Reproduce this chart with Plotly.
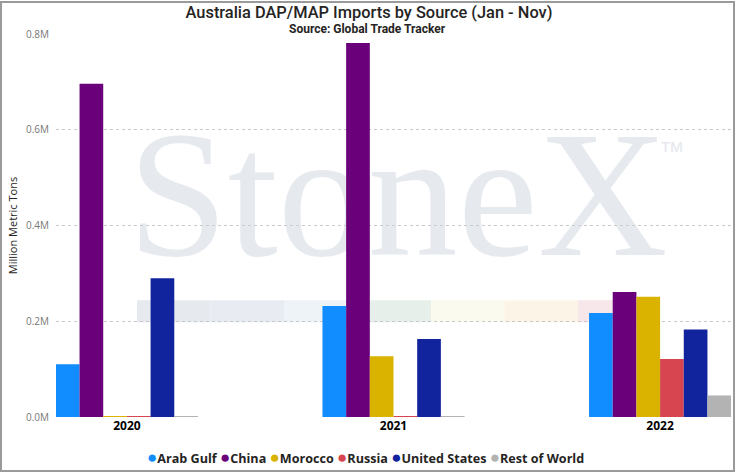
import plotly.graph_objects as go

# Australia DAP/MAP imports by source, Jan - Nov (million metric tons)
years = ["2020", "2021", "2022"]
sources = ["Arab Gulf", "China", "Morocco", "Russia", "United States", "Rest of World"]
colors = ["#118DFF", "#6B007B", "#D9B300", "#D64550", "#12239E", "#B3B3B3"]

arab_gulf = [0.110, 0.232, 0.217]
china = [0.696, 0.781, 0.261]
morocco = [0.002, 0.127, 0.251]
russia = [0.002, 0.002, 0.121]
united_states = [0.290, 0.163, 0.183]
rest_of_world = [0.001, 0.001, 0.045]
series = [arab_gulf, china, morocco, russia, united_states, rest_of_world]

y_ticks = [0.0, 0.2, 0.4, 0.6, 0.8]

# watermark band colours (left to right)
band_colors = ["#e6e9ee", "#e8ecf2", "#eef3f8", "#e7efea", "#fafaee", "#fdf4e8", "#f7e6ea"]

W, H = 738, 474
L, R, T, B = 56, 7, 34, 57
pw, ph = W - L - R, H - T - B


def px_x(x):
    # pixel -> paper x
    return (x - L) / pw


def px_y(y):
    # pixel -> paper y
    return (H - B - y) / ph


fig = go.Figure()

# watermark lives on the base axes so the bars (overlay axes) sit on top of it
wm = ("Stone<span style='letter-spacing:-9px'>X</span>"
      "<span style='font-size:26px;font-family:Liberation Sans;"
      "baseline-shift:95px'>™</span>")
fig.add_trace(go.Scatter(
    x=[0.5188], y=[0.432],
    mode="text",
    text=[wm],
    textposition="middle center",
    textfont=dict(family="Liberation Serif", size=180, color="rgba(205,211,221,0.5)"),
    hoverinfo="skip",
    showlegend=False,
    xaxis="x", yaxis="y",
))

for name, vals, col in zip(sources, series, colors):
    fig.add_trace(go.Bar(
        x=years,
        y=vals,
        name=name,
        marker=dict(color=col, line=dict(width=0)),
        showlegend=False,
        xaxis="x2", yaxis="y",
    ))

shapes = []
seg = 73.5
for i, c in enumerate(band_colors):
    shapes.append(dict(
        type="rect", layer="below",
        xref="paper", yref="y",
        x0=px_x(137 + i * seg), x1=px_x(137 + (i + 1) * seg),
        y0=0.198, y1=0.244,
        fillcolor=c, line=dict(width=0),
    ))
# outer frame
shapes.append(dict(
    type="rect", xref="paper", yref="paper",
    x0=px_x(1), x1=px_x(734), y0=px_y(471), y1=px_y(2),
    line=dict(color="#9a9a9a", width=2),
))

legend_txt = " ".join(
    f'<span style="color:{c};font-size:17px">●</span><b>{n}</b>'
    for n, c in zip(sources, colors)
)

fig.update_layout(
    width=W, height=H,
    margin=dict(l=L, r=R, t=T, b=B),
    paper_bgcolor="white",
    plot_bgcolor="white",
    barmode="group",
    bargap=0.467,
    bargroupgap=0,
    title=dict(
        text="Australia DAP/MAP Imports by Source (Jan - Nov)",
        x=0.5, xanchor="center", xref="container",
        y=1 - 12 / H, yanchor="middle", yref="container",
        font=dict(family="Roboto", size=16.4, color="#252423", weight=500),
    ),
    xaxis=dict(range=[0, 1], visible=False, fixedrange=True),
    xaxis2=dict(
        overlaying="x",
        type="category",
        range=[-0.266, 2.266],
        showgrid=False, zeroline=False, showline=False,
        ticks="",
        tickfont=dict(family="Open Sans", size=12, color="#000000", weight="bold"),
    ),
    yaxis=dict(
        range=[0, 0.8],
        tickvals=y_ticks,
        ticktext=[f"{v:.1f}M" for v in y_ticks],
        showgrid=True,
        gridcolor="#c8c8c8",
        griddash="dot",
        gridwidth=1,
        zeroline=False,
        showline=False,
        ticks="",
        ticklabelstandoff=6,
        tickfont=dict(family="Open Sans", size=10, color="#777777"),
        title=dict(text="Million Metric Tons",
                   font=dict(family="Open Sans", size=11, color="#252423"),
                   standoff=6),
    ),
    annotations=[
        dict(
            text="<b>Source: Global Trade Tracker</b>",
            xref="paper", yref="paper",
            x=px_x(367.5), y=px_y(29),
            xanchor="center", yanchor="middle",
            showarrow=False,
            font=dict(family="Roboto", size=12, color="#252423"),
        ),
        dict(
            text=legend_txt,
            xref="paper", yref="paper",
            x=px_x(365), y=px_y(456),
            xanchor="center", yanchor="middle",
            showarrow=False,
            font=dict(family="Open Sans", size=12.6, color="#252423"),
        ),
    ],
    shapes=shapes,
    showlegend=False,
)

# drop the browser's default body margin so the figure sits at the page corner
fig.write_html("out.html", config={"displayModeBar": False},
               post_script="document.body.style.margin = '0';")
